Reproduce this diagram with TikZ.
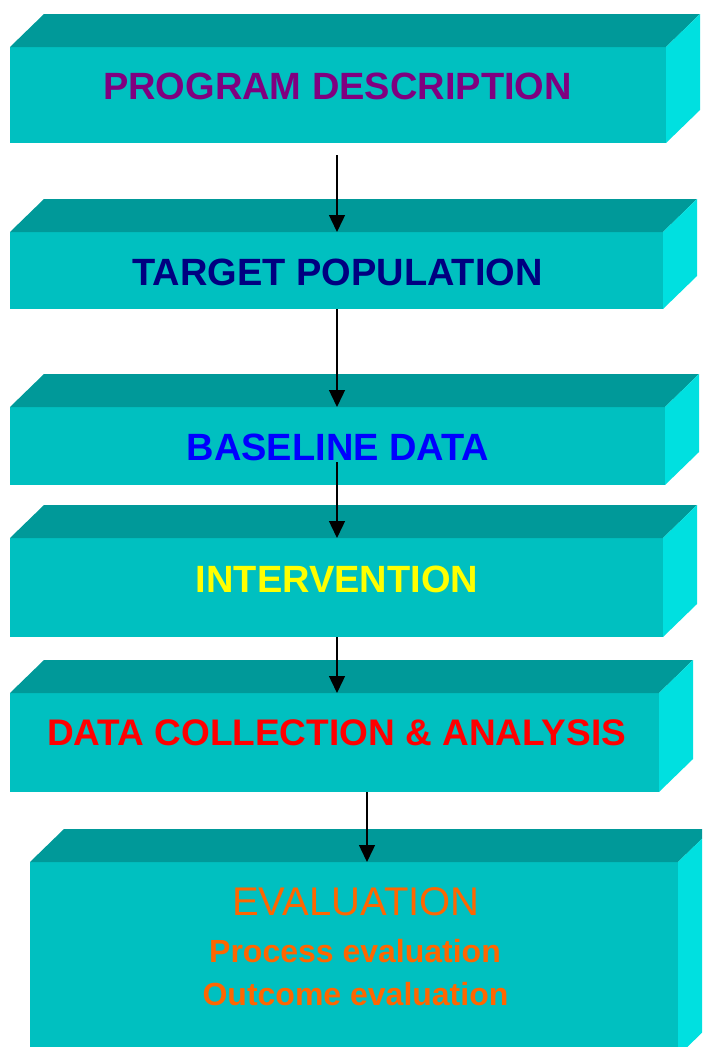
\documentclass[tikz,border=0pt]{standalone}
\usepackage{fontspec}
\setmainfont{Liberation Sans}
\usetikzlibrary{arrows.meta,calc}
\definecolor{frontc}{RGB}{0,192,192}
\definecolor{topc}{RGB}{0,153,153}
\definecolor{sidec}{RGB}{0,224,224}
\definecolor{purplet}{RGB}{128,0,128}
\definecolor{navyt}{RGB}{0,0,128}
\definecolor{bluet}{RGB}{0,0,255}
\definecolor{yellowt}{RGB}{255,255,0}
\definecolor{redt}{RGB}{255,0,0}
\definecolor{oranget}{RGB}{255,102,0}
\newcommand\slabfaces[1]{%
  \fill[topc] (#1.north west) -- ++(34,-33) -- ($(#1.north east)+(34,-33)$) -- (#1.north east) -- cycle;
  \fill[sidec] (#1.north east) -- ++(34,-33) -- ($(#1.south east)+(34,-33)$) -- (#1.south east) -- cycle;
}
\begin{document}
\begin{tikzpicture}[x=1pt,y=-1pt,
  frontbox/.style={fill=frontc, inner sep=0pt, outer sep=0pt, anchor=north west, draw=none},
  lbl/.style={anchor=base, inner sep=0pt, font=\bfseries\fontsize{38}{40}\selectfont},
  sublbl/.style={anchor=base, inner sep=0pt, font=\bfseries\fontsize{32}{34}\selectfont, text=oranget},
  arr/.style={line width=1.4pt, -{Triangle[length=17pt,width=16pt]}}]
\useasboundingbox (0,0) rectangle (702,1047);
\clip (0,0) rectangle (702,1047);
% boxes
\node[frontbox, minimum width=656pt, minimum height=96pt] (b1) at (10,47) {};
\node[frontbox, minimum width=653pt, minimum height=77pt] (b2) at (10,232) {};
\node[frontbox, minimum width=655pt, minimum height=78pt] (b3) at (10,407) {};
\node[frontbox, minimum width=653pt, minimum height=99pt] (b4) at (10,538) {};
\node[frontbox, minimum width=649pt, minimum height=99pt] (b5) at (10,693) {};
\node[frontbox, minimum width=648pt, minimum height=194pt] (b6) at (30,862) {};
\slabfaces{b1}
\slabfaces{b2}
\slabfaces{b3}
\slabfaces{b4}
\slabfaces{b5}
\slabfaces{b6}
% connectors
\coordinate (s1) at (337,155);
\coordinate (s2) at (337,309);
\coordinate (s3) at (337,462);
\coordinate (s4) at (337,637);
\coordinate (s5) at (367,792);
\draw[arr] (s1) -- (s1 |- b2.north);
\draw[arr] (s2) -- (s2 |- b3.north);
\draw[arr] (s3) -- (s3 |- b4.north);
\draw[arr] (s4) -- (s4 |- b5.north);
\draw[arr] (s5) -- (s5 |- b6.north);
% labels
\node[lbl, text=purplet] (t1) at (337.5,99) {PROGRAM DESCRIPTION};
\node[lbl, text=navyt] (t2) at (337.5,285) {TARGET POPULATION};
\node[lbl, text=bluet] (t3) at (338,460) {BASELINE DATA};
\node[lbl, text=yellowt] (t4) at (337,592) {INTERVENTION};
\node[lbl, text=redt, font=\bfseries\fontsize{37}{39}\selectfont] (t5) at (336.5,745) {DATA COLLECTION \& ANALYSIS};
\node[anchor=base, inner sep=0pt, font=\fontsize{40}{42}\selectfont, text=oranget] (t6) at (356,915) {EVALUATION};
\node[sublbl] (t7) at (355,962) {Process evaluation};
\node[sublbl] (t8) at (355.5,1005) {Outcome evaluation};
\end{tikzpicture}
\end{document}
